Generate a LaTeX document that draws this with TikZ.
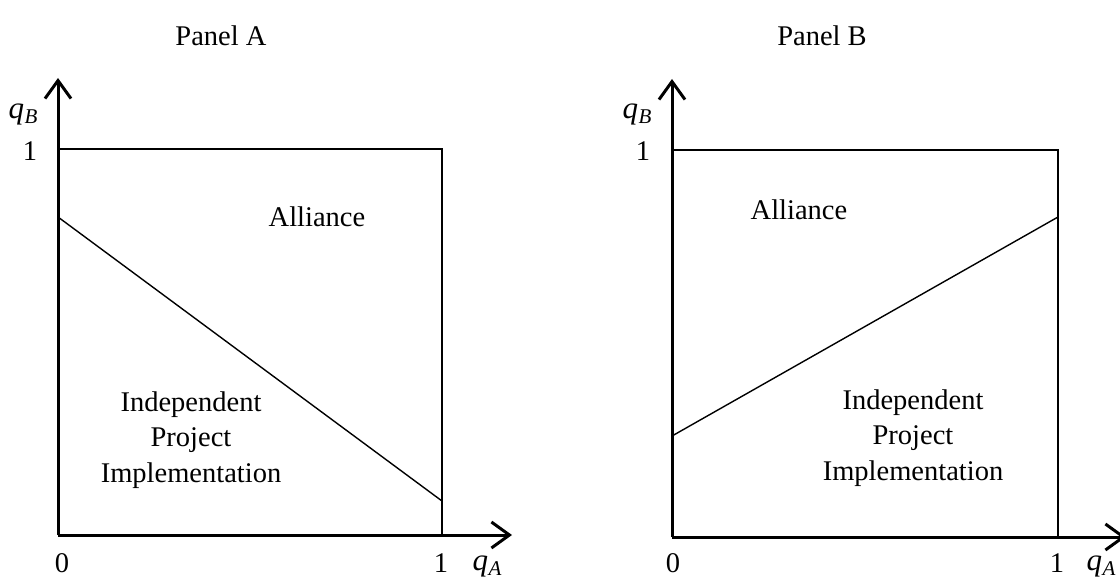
\documentclass[tikz,border=0pt]{standalone}
\usepackage{fontspec}
\setmainfont{Liberation Serif}
\usetikzlibrary{arrows.meta}
\tikzset{
  axis/.style={line width=3pt, -{Straight Barb[length=18pt,width=26pt,line width=3pt]}},
  boxline/.style={line width=2.5pt},
  divider/.style={line width=1.4pt},
  txt/.style={font=\fontsize{28.5}{35.5}\selectfont, align=center, inner sep=0pt},
}
\newcommand{\qvar}[1]{{\fontsize{31}{31}\selectfont\textit{q}}\kern0.5pt\raisebox{-5pt}{\fontsize{21}{21}\selectfont\textit{#1}}}
\begin{document}
\begin{tikzpicture}[x=1pt,y=-1pt]
\useasboundingbox (0,0) rectangle (1120,578);
% Panel A
\node[txt] (tA) at (221,36) {Panel A};
\coordinate (oA) at (58,535);
\coordinate (yA) at (58,78);
\coordinate (xA) at (512,535);
\coordinate (tlA) at (58,149);
\coordinate (trA) at (442,149);
\coordinate (brA) at (442,535);
\coordinate (dA1) at (58,217);
\coordinate (dA2) at (442,501);
\draw[boxline] (tlA) -- (trA) -- (brA);
\draw[divider] (dA1) -- (dA2);
\draw[axis] (oA) -- (yA);
\draw[axis] (oA) -- (xA);
\node[txt] (oneyA) at (30,151) {1};
\node[txt] (qBA) at (23,114) {\qvar{B}};
\node[txt] (zeroA) at (62,563) {0};
\node[txt] (onexA) at (441,563) {1};
\node[txt] (qAA) at (487,566) {\qvar{A}};
\node[txt] (allA) at (317,217) {Alliance};
\node[txt] (indA) at (191,440) {Independent\\Project\\Implementation};
% Panel B
\node[txt] (tB) at (822,36) {Panel B};
\coordinate (oB) at (672,537);
\coordinate (yB) at (672,79);
\coordinate (xB) at (1126,537);
\coordinate (tlB) at (672,150);
\coordinate (trB) at (1058,150);
\coordinate (brB) at (1058,537);
\coordinate (dB1) at (672,436);
\coordinate (dB2) at (1058,217);
\draw[boxline] (tlB) -- (trB) -- (brB);
\draw[divider] (dB1) -- (dB2);
\draw[axis] (oB) -- (yB);
\draw[axis] (oB) -- (xB);
\node[txt] (oneyB) at (643,151) {1};
\node[txt] (qBB) at (637,114) {\qvar{B}};
\node[txt] (zeroB) at (673,563) {0};
\node[txt] (onexB) at (1057,563) {1};
\node[txt] (qAB) at (1101,566) {\qvar{A}};
\node[txt] (allB) at (799,210) {Alliance};
\node[txt] (indB) at (913,438) {Independent\\Project\\Implementation};
\end{tikzpicture}
\end{document}
